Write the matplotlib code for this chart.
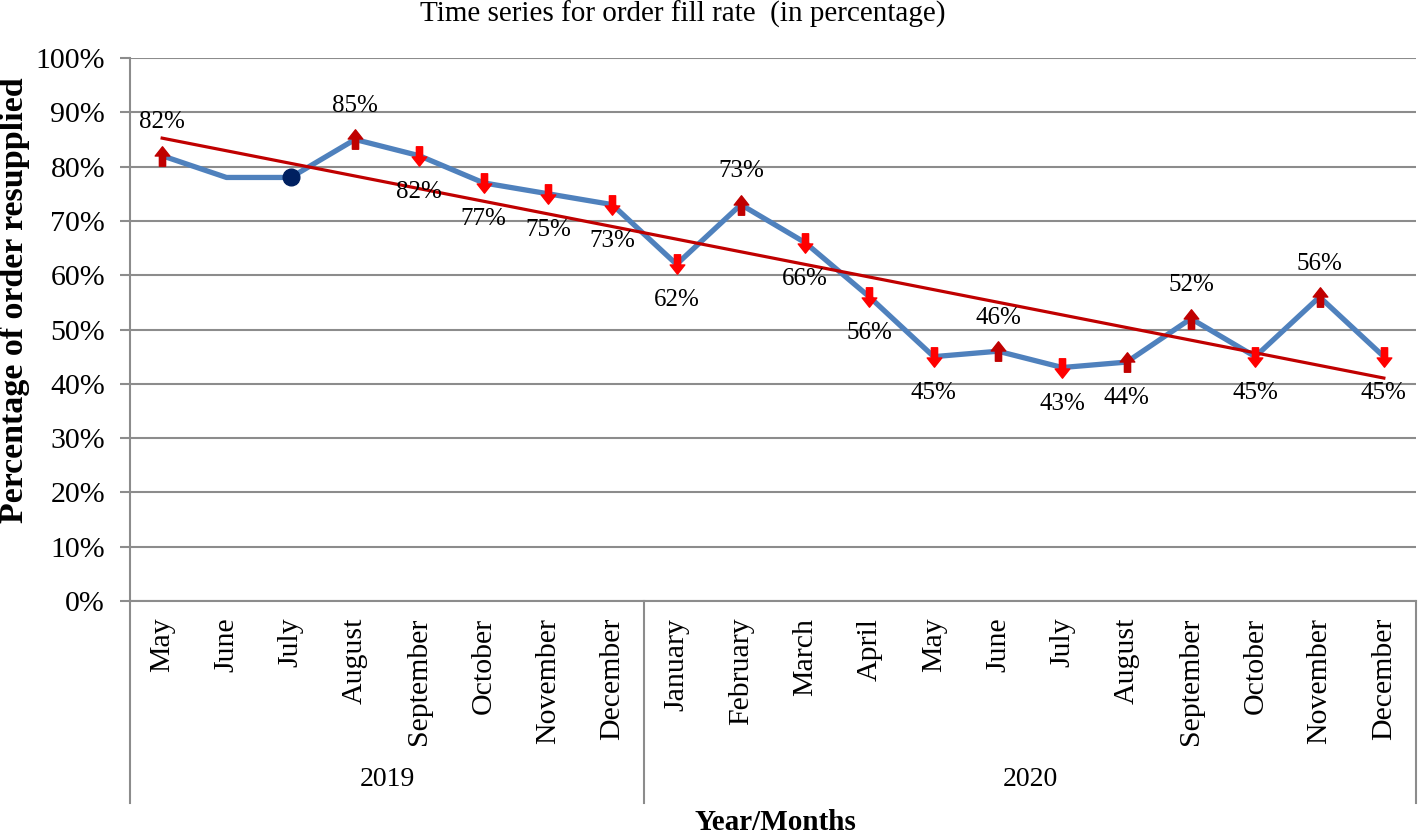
import numpy as np
import matplotlib
matplotlib.use("Agg")
import matplotlib.pyplot as plt
from matplotlib.path import Path

plt.rcParams['font.family'] = ['Liberation Serif', 'DejaVu Serif']

months = ["May", "June", "July", "August", "September", "October", "November", "December",
          "January", "February", "March", "April", "May", "June", "July", "August",
          "September", "October", "November", "December"]
years = ["2019", "2020"]
year_counts = [8, 12]
fill_rate = [82, 78, 78, 85, 82, 77, 75, 73, 62, 73, 66, 56, 45, 46, 43, 44, 52, 45, 56, 45]
# marker type per point: up / down / dot / none
marker_kind = ["up", "none", "dot", "up", "down", "down", "down", "down", "down", "up",
               "down", "down", "down", "up", "down", "up", "up", "down", "up", "down"]
# label placement per point
label_pos = ["above", None, None, "above", "below", "below", "below", "below", "below", "above",
             "below", "below", "below", "above", "below", "below", "above", "below", "above", "below"]

x = np.arange(len(fill_rate))
y = np.array(fill_rate)

fig = plt.figure(figsize=(14.18, 8.35), dpi=100)
ax = fig.add_axes([130/1418, 1-601/835, 1286/1418, 543/835])

grid_col = "#8c8c8c"
ax.set_ylim(0, 100)
ax.set_xlim(-0.5, len(fill_rate)-0.5)
ax.set_yticks(np.arange(0, 101, 10))
ax.set_yticklabels([f"{v}%" for v in range(0, 101, 10)], fontsize=21.5)
ax.yaxis.grid(True, color=grid_col, lw=1.5)
ax.set_axisbelow(True)
for s in ["top", "right", "bottom"]:
    ax.spines[s].set_visible(False)
ax.spines["left"].set_color(grid_col)
ax.spines["left"].set_linewidth(1.5)
ax.tick_params(axis="y", length=7, width=1.5, color=grid_col, pad=11)

ax.set_xticks(x)
ax.set_xticklabels(months, rotation=90, fontsize=21.5, va="top")
ax.tick_params(axis="x", length=0, pad=12)

# main series
ax.plot(x, y, color="#4F81BD", lw=3.8, zorder=3)

# trend line
k, b = np.polyfit(x, y, 1)
ax.plot(x, k*x + b, color="#C00000", lw=2.3, zorder=4)

up = Path([(-0.32, -1), (0.32, -1), (0.32, 0.05), (0.75, 0.05), (0, 1), (-0.75, 0.05), (-0.32, 0.05), (-0.32, -1)],
          [Path.MOVETO] + [Path.LINETO]*6 + [Path.CLOSEPOLY])
down = Path([(-0.32, 1), (0.32, 1), (0.32, -0.05), (0.75, -0.05), (0, -1), (-0.75, -0.05), (-0.32, -0.05), (-0.32, 1)],
            [Path.MOVETO] + [Path.LINETO]*6 + [Path.CLOSEPOLY])

for xi, yi, mk, lp in zip(x, y, marker_kind, label_pos):
    if mk == "up":
        ax.plot(xi, yi, marker=up, ms=14, color="#C00000", mec="#C00000", zorder=5)
    elif mk == "down":
        ax.plot(xi, yi, marker=down, ms=14, color="#FF0000", mec="#FF0000", zorder=5)
    elif mk == "dot":
        ax.plot(xi, yi, marker="o", ms=12, color="#002060", zorder=5)
    if lp == "above":
        ax.annotate(f"{yi}%", (xi, yi), xytext=(0, 24), textcoords="offset points",
                    ha="center", va="center", fontsize=18, zorder=6)
    elif lp == "below":
        ax.annotate(f"{yi}%", (xi, yi), xytext=(0, -26), textcoords="offset points",
                    ha="center", va="center", fontsize=18, zorder=6)

# category group axis
trans = ax.get_xaxis_transform()
depth = -(803-601)/543
edges = np.concatenate([[0], np.cumsum(year_counts)]) - 0.5
for e in edges:
    ax.plot([e, e], [0, depth], color=grid_col, lw=1.5, transform=trans, clip_on=False)
ax.plot([edges[0], edges[-1]], [0, 0], color=grid_col, lw=1.5, transform=trans, clip_on=False)
for i, yr in enumerate(years):
    ax.text((edges[i] + edges[i+1]) / 2, -(780-601)/543, yr, transform=trans,
            ha="center", va="center", fontsize=20)

fig.text(683/1418, 1-14/835, "Time series for order fill rate  (in percentage)",
         ha="center", va="center", fontsize=21)
fig.text(15/1418, 1-300/835, "Percentage of order resupplied", rotation=90,
         ha="center", va="center", fontsize=24.5, fontweight="bold")
fig.text(775/1418, 1-822/835, "Year/Months", ha="center", va="center",
         fontsize=21, fontweight="bold")

fig.savefig("out.png", dpi=100)
